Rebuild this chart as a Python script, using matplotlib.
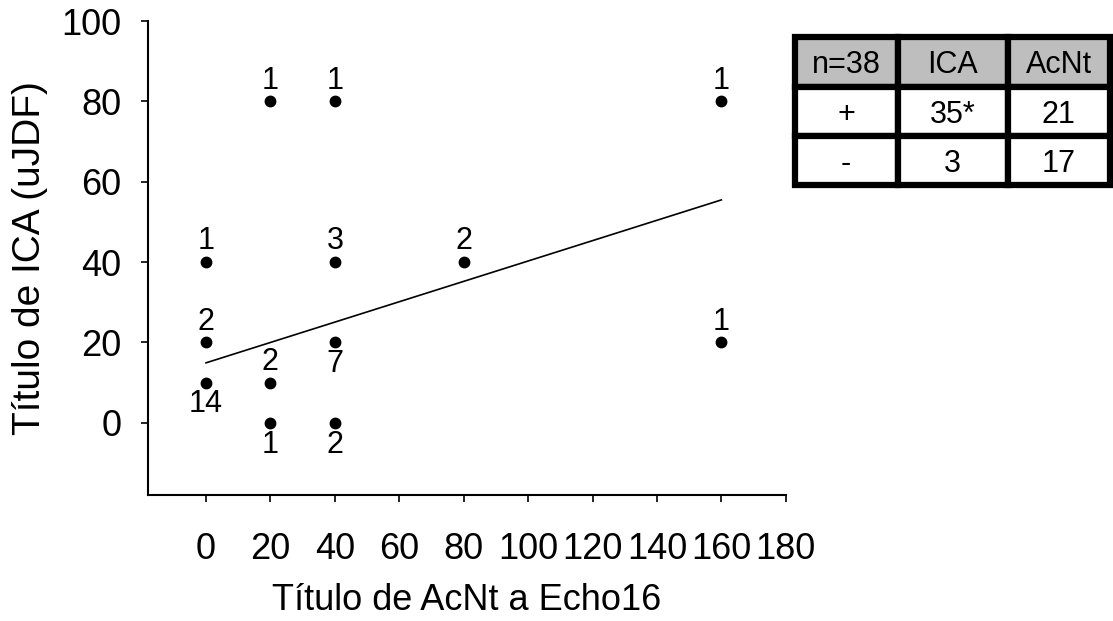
import numpy as np
import matplotlib

matplotlib.use("Agg")
import matplotlib.pyplot as plt

plt.rcParams["font.family"] = ["Liberation Sans", "DejaVu Sans"]

# data: (AcNt titre, ICA titre, number of sera)
acnt = [0, 0, 0, 20, 20, 20, 40, 40, 40, 40, 80, 160, 160]
ica = [10, 20, 40, 0, 10, 80, 0, 20, 40, 80, 40, 20, 80]
counts = [14, 2, 1, 1, 2, 1, 2, 7, 3, 1, 2, 1, 1]
label_below = [True, False, False, True, False, False, True, True, False, False, False, False, False]

xticks = [0, 20, 40, 60, 80, 100, 120, 140, 160, 180]
yticks = [0, 20, 40, 60, 80, 100]

table_rows = [["n=38", "ICA", "AcNt"], ["+", "35*", "21"], ["-", "3", "17"]]

fig = plt.figure(figsize=(11.13, 6.21), dpi=100)
ax = fig.add_axes([0.133, 0.203, 0.573, 0.763])

ax.plot(acnt, ica, "o", color="black", ms=7.5, zorder=3)
for x, y, n, below in zip(acnt, ica, counts, label_below):
    if below:
        ax.annotate(str(n), (x, y), xytext=(0, -5), textcoords="offset points",
                    ha="center", va="top", fontsize=22)
    else:
        ax.annotate(str(n), (x, y), xytext=(0, 4), textcoords="offset points",
                    ha="center", va="bottom", fontsize=22)

# least squares line weighted by counts
xs = np.repeat(acnt, counts)
ys = np.repeat(ica, counts)
slope, icpt = np.polyfit(xs, ys, 1)
lx = np.array([min(acnt), max(acnt)])
ax.plot(lx, icpt + slope * lx, color="black", lw=1.2)

ax.set_xlim(-18, 180)
ax.set_ylim(-18, 100)
ax.set_xticks(xticks)
ax.set_yticks(yticks)
ax.spines["top"].set_visible(False)
ax.spines["right"].set_visible(False)
ax.spines["left"].set_linewidth(1.5)
ax.spines["bottom"].set_linewidth(1.5)
ax.tick_params(axis="x", length=5, width=1.2, pad=22, labelsize=26)
ax.tick_params(axis="y", length=5, width=1.2, pad=14, labelsize=26)
ax.set_xlabel("Título de AcNt a Echo16", fontsize=26, labelpad=11)
ax.set_ylabel("Título de ICA (uJDF)", fontsize=28, labelpad=10)

# summary table
tax = fig.add_axes([0.714, 0.702, 0.283, 0.238])
tax.axis("off")
tbl = tax.table(cellText=table_rows, cellLoc="center", bbox=[0, 0, 1, 1],
                colWidths=[103, 110, 102])
tbl.auto_set_font_size(False)
for (r, c), cell in tbl.get_celld().items():
    cell.set_linewidth(4.5)
    cell.set_edgecolor("black")
    cell.get_text().set_fontsize(22)
    cell.get_text().set_va("center_baseline")
    if r == 0:
        cell.set_facecolor("#bebebe")

fig.savefig("out.png", dpi=100)
